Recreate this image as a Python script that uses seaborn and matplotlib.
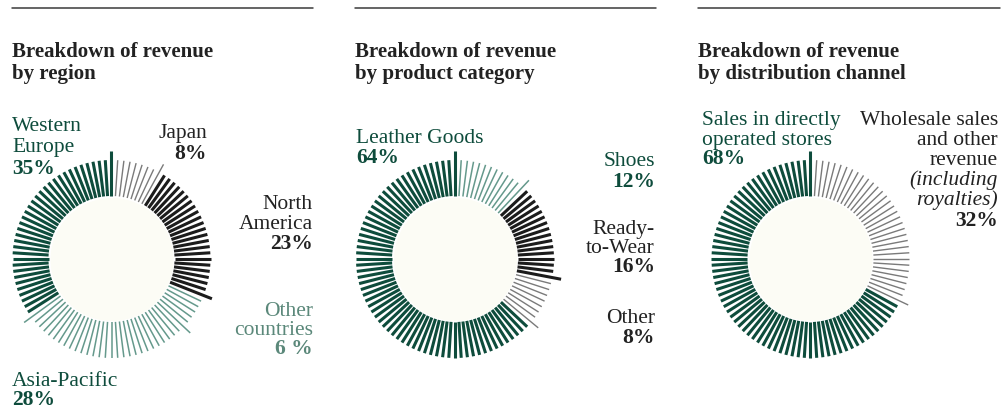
import numpy as np
import pandas as pd
import matplotlib
matplotlib.use("Agg")
import matplotlib.pyplot as plt
from matplotlib.lines import Line2D
import seaborn as sns

# Shares in percent, listed clockwise starting from 12 o'clock
region_segments = ["Japan", "North America", "Other countries", "Asia-Pacific", "Western Europe"]
region_shares = [8, 23, 6, 28, 35]

product_segments = ["Shoes", "Ready-to-Wear", "Other", "Leather Goods"]
product_shares = [12, 16, 8, 64]

channel_segments = ["Wholesale sales and other revenue", "Sales in directly operated stores"]
channel_shares = [32, 68]

titles = ["Breakdown of revenue\nby region",
          "Breakdown of revenue\nby product category",
          "Breakdown of revenue\nby distribution channel"]

sns.set_theme(style="white")
plt.rcParams["font.family"] = ["Liberation Serif", "DejaVu Serif"]

GREEN = "#0e4c3c"
TEAL = "#65998c"
TEAL_TXT = "#5b887a"
BLACK = "#1c1c1c"
GREY = "#7a7a7a"
CREAM = "#fcfcf5"
INK = "#222222"

# tick style per segment: (colour, line width)
THICK_GREEN = (GREEN, 2.2)
THIN_TEAL = (TEAL, 1.1)
THICK_BLACK = (BLACK, 2.2)
THIN_GREY = (GREY, 1.0)

region_style = [THIN_GREY, THICK_BLACK, THIN_TEAL, THIN_TEAL, THICK_GREEN]
product_style = [THIN_TEAL, THICK_BLACK, THIN_GREY, THICK_GREEN]
channel_style = [THIN_GREY, THICK_GREEN]

W, H = 1003, 410
fig = plt.figure(figsize=(W / 100, H / 100), dpi=100)
fig.patch.set_facecolor("white")

R_IN, R_OUT, R_LONG, R_MAX = 63, 99, 108, 110


def tick_ring(cx, cy, names, shares, styles):
    ax = fig.add_axes([(cx - R_MAX) / W, (H - cy - R_MAX) / H, 2 * R_MAX / W, 2 * R_MAX / H],
                      projection="polar")
    ax.set_theta_zero_location("N")
    ax.set_theta_direction(-1)
    ax.set_ylim(0, R_MAX)
    ax.axis("off")
    rows = []
    start = 0
    for name, share, (col, lw) in zip(names, shares, styles):
        for k in range(1, share + 1):
            rows.append(dict(segment=name, pct=start + k, color=col, lw=lw,
                             last=(k == share)))
        start += share
    df = pd.DataFrame(rows)
    theta = np.deg2rad(df["pct"].to_numpy() * 3.6)
    r_end = np.where(df["last"], R_LONG, R_OUT)
    ax.vlines(theta, R_IN, r_end, colors=df["color"], linewidths=df["lw"],
              capstyle="butt", zorder=2)
    t = np.linspace(0, 2 * np.pi, 400)
    ax.fill_between(t, 0, 61.5, color=CREAM, lw=0, zorder=3)
    return ax


tick_ring(111.5, 260, region_segments, region_shares, region_style)
tick_ring(455, 260, product_segments, product_shares, product_style)
tick_ring(810.5, 260, channel_segments, channel_shares, channel_style)


def put(x, y, s, color=INK, weight="normal", ha="left", style="normal", size=15.5):
    fig.text(x / W, 1 - y / H, s, color=color, fontweight=weight, ha=ha, va="baseline",
             fontstyle=style, fontsize=size)


# header rules and titles
for x0, x1, title in zip([12, 355, 698], [313, 656, 1000], titles):
    fig.add_artist(Line2D([x0 / W, x1 / W], [1 - 9 / H, 1 - 9 / H], color="#3a3a3a", lw=1.1))
    first, second = title.split("\n")
    put(x0, 57, first, weight="bold", size=15)
    put(x0, 79, second, weight="bold", size=15)

# region labels
put(12, 131, "Western", GREEN)
put(12, 152, "Europe", GREEN)
put(12, 174, f"{region_shares[4]}%", GREEN, "bold")
put(207, 138, "Japan", INK, ha="right")
put(207, 159, f"{region_shares[0]}%", INK, "bold", ha="right")
put(313, 209, "North", INK, ha="right")
put(313, 229, "America", INK, ha="right")
put(313, 249, f"{region_shares[1]}%", INK, "bold", ha="right")
put(313, 316, "Other", TEAL_TXT, ha="right")
put(313, 335, "countries", TEAL_TXT, ha="right")
put(313, 354, f"{region_shares[2]} %", TEAL_TXT, "bold", ha="right")
put(12, 386, "Asia-Pacific", GREEN)
put(12, 405, f"{region_shares[3]}%", GREEN, "bold")

# product labels
put(356, 143, "Leather Goods", GREEN)
put(356, 163, f"{product_shares[3]}%", GREEN, "bold")
put(655, 166, "Shoes", GREEN, ha="right")
put(655, 187, f"{product_shares[0]}%", GREEN, "bold", ha="right")
put(655, 234, "Ready-", INK, ha="right")
put(655, 253, "to-Wear", INK, ha="right")
put(655, 272, f"{product_shares[1]}%", INK, "bold", ha="right")
put(655, 323, "Other", INK, ha="right")
put(655, 343, f"{product_shares[2]}%", INK, "bold", ha="right")

# channel labels
put(702, 125, "Sales in directly", GREEN)
put(702, 145, "operated stores", GREEN)
put(702, 164, f"{channel_shares[1]}%", GREEN, "bold")
put(998, 125, "Wholesale sales", INK, ha="right")
put(998, 145, "and other", INK, ha="right")
put(998, 165, "revenue", INK, ha="right")
put(998, 185, "(including", INK, ha="right", style="italic")
put(998, 205, "royalties)", INK, ha="right", style="italic")
put(998, 226, f"{channel_shares[0]}%", INK, "bold", ha="right")

fig.savefig("out.png", dpi=100, facecolor="white")
